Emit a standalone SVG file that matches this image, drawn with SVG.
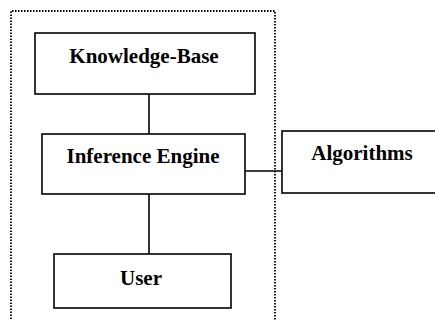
<svg xmlns="http://www.w3.org/2000/svg" width="435" height="320" viewBox="0 0 435 320">
<style>
.box{fill:#fff;stroke:#000;stroke-width:1.6}
.lbl{font-family:"Liberation Serif","Times New Roman",serif;font-weight:bold;font-size:21px;fill:#000;text-anchor:middle}
.con{stroke:#000;stroke-width:1.6;fill:none}
.dot{stroke:#000;stroke-width:1.8;fill:none;stroke-dasharray:1.5 1.5}
</style>
<rect width="435" height="320" fill="#fff"/>
<path class="dot" d="M11,322 V11 H275 V322"/>
<g id="connectors">
<line class="con" x1="149" y1="94" x2="149" y2="134"/>
<line class="con" x1="149" y1="194" x2="149" y2="254"/>
<line class="con" x1="245" y1="171" x2="282" y2="171"/>
</g>
<g id="knowledge-base">
<rect class="box" x="35" y="33" width="220" height="61"/>
<text class="lbl" x="144" y="63">Knowledge-Base</text>
</g>
<g id="inference-engine">
<rect class="box" x="42" y="134" width="203" height="60"/>
<text class="lbl" x="143" y="163">Inference Engine</text>
</g>
<g id="algorithms">
<rect class="box" x="282" y="131" width="160" height="62"/>
<text class="lbl" x="362" y="160">Algorithms</text>
</g>
<g id="user">
<rect class="box" x="54" y="254" width="177" height="54"/>
<text class="lbl" x="141" y="285">User</text>
</g>
</svg>
